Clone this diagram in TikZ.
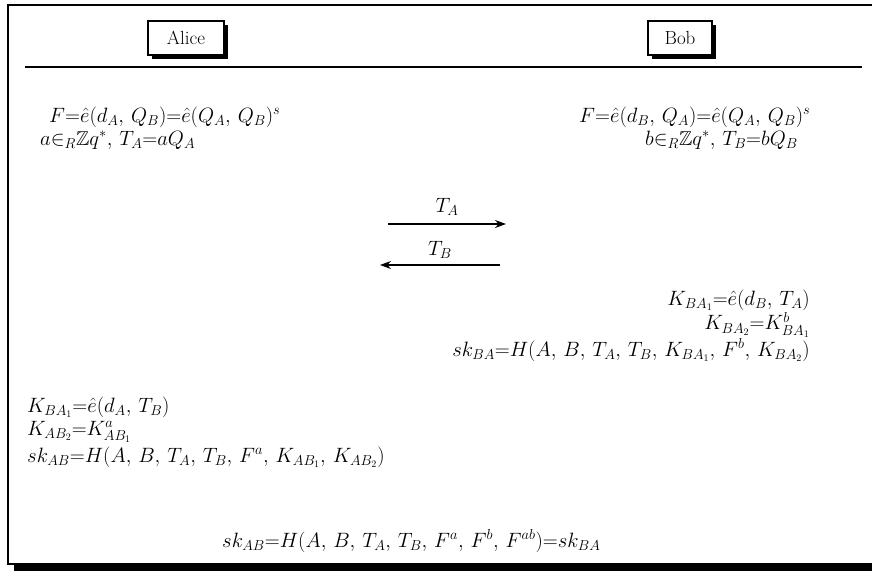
\documentclass[tikz,border=0pt]{standalone}
\usepackage{amsmath,amssymb}
\usetikzlibrary{arrows.meta}
\newcommand{\cm}{,\mskip3mu}
\begin{document}
\begin{tikzpicture}[x=1pt,y=-1pt,
  txt/.style={inner sep=0pt,font=\fontsize{20}{22}\selectfont},
  party/.style={draw,line width=1.3pt,fill=white,minimum width=76pt,minimum height=34pt,inner sep=2pt,font=\fontsize{19}{21}\selectfont},
  pshadow/.style={fill=black,minimum width=76pt,minimum height=34pt,inner sep=0pt},
  msg/.style={-{Stealth[length=11pt,width=8pt]},line width=1.1pt}]
\useasboundingbox (0,0) rectangle (872,570);
% outer frame
\fill[black] (14,563) rectangle (884,572);
\draw[line width=1.8pt] (8,5) rectangle (878,564);
% parties
\node[pshadow] (as) at (190,42) {};
\node[party] (alice) at (186,38) {Alice};
\node[pshadow,minimum width=64pt] (bs) at (684,42) {};
\node[party,minimum width=64pt] (bob) at (680,38) {Bob};
% rule
\coordinate (ruleL) at (25,67);
\coordinate (ruleR) at (862,67);
\draw[line width=1.8pt] (ruleL) -- (ruleR);
% Alice init
\node[txt,anchor=west] (a1) at (49,117) {$F{=}\hat{e}(d_A\cm Q_B){=}\hat{e}(Q_A\cm Q_B)^s$};
\node[txt,anchor=west] (a2) at (40,141) {$a{\in}_R\mathbb{Z}q^*_{\vphantom{R}}\cm T_A{=}aQ_A$};
% Bob init
\node[txt,anchor=west] (b1) at (579,117) {$F{=}\hat{e}(d_B\cm Q_A){=}\hat{e}(Q_A\cm Q_B)^s$};
\node[txt,anchor=west] (b2) at (645,141) {$b{\in}_R\mathbb{Z}q^*_{\vphantom{R}}\cm T_B{=}bQ_B$};
% messages
\coordinate (ta1) at (388,224);
\coordinate (ta2) at (506,224);
\draw[msg] (ta1) -- node[txt,above=8pt] (tal) {$T_A$} (ta2);
\coordinate (tb1) at (500,265);
\coordinate (tb2) at (380,265);
\draw[msg] (tb1) -- node[txt,above=6pt] (tbl) {$T_B$} (tb2);
% Bob computations
\node[txt,anchor=east] (k1) at (810,300) {$K_{BA_1}{=}\hat{e}(d_B\cm T_A)$};
\node[txt,anchor=east] (k2) at (810,325) {$K_{BA_2}{=}K^{b}_{BA_1}$};
\node[txt,anchor=east] (k3) at (810,350) {$sk_{BA}{=}H(A\cm B\cm T_A\cm T_B\cm K_{BA_1}\cm F^b\cm K_{BA_2})$};
% Alice computations
\node[txt,anchor=west] (l1) at (27,407) {$K_{BA_1}{=}\hat{e}(d_A\cm T_B)$};
\node[txt,anchor=west] (l2) at (27,432) {$K_{AB_2}{=}K^{a}_{AB_1}$};
\node[txt,anchor=west] (l3) at (27,457) {$sk_{AB}{=}H(A\cm B\cm T_A\cm T_B\cm F^a\cm K_{AB_1}\cm K_{AB_2})$};
% final
\node[txt,anchor=west] (fin) at (222,541) {$sk_{AB}{=}H(A\cm B\cm T_A\cm T_B\cm F^a\cm F^b\cm F^{ab}){=}sk_{BA}$};
\end{tikzpicture}
\end{document}
